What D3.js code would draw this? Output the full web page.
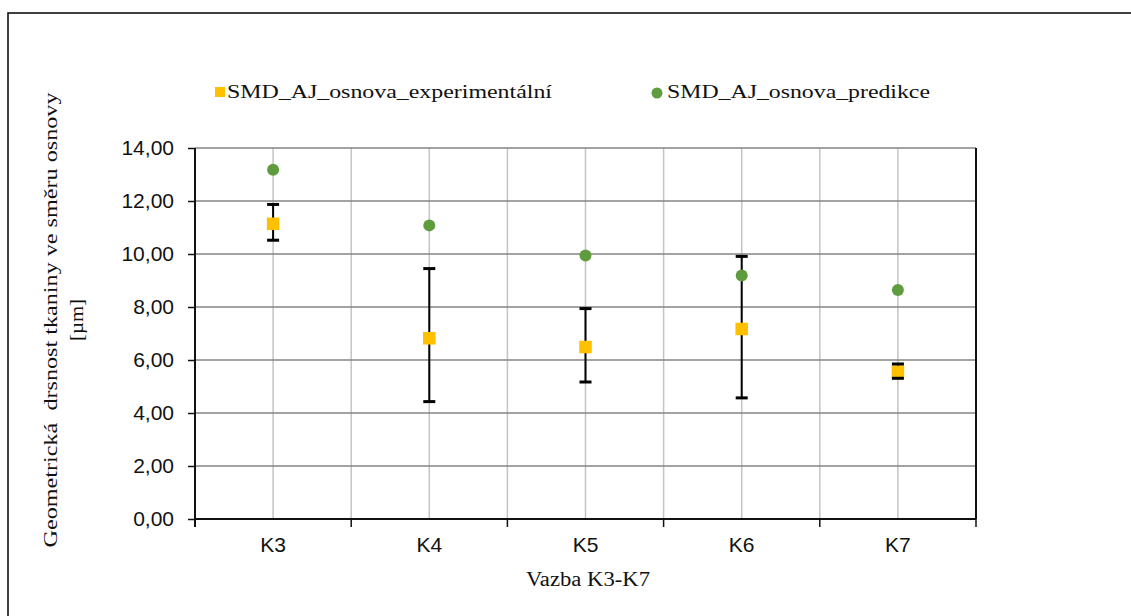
<!DOCTYPE html>
<html><head><meta charset="utf-8">
<script src="https://cdn.jsdelivr.net/npm/d3@7"></script>
<style>body{margin:0;background:#fff}svg{display:block}</style>
</head><body>
<svg id="c" width="1131" height="616"></svg>
<script>
const categories = ["K3","K4","K5","K6","K7"];
const experimental = [11.14, 6.82, 6.49, 7.17, 5.56];
const expUpper = [11.87, 9.45, 7.94, 9.91, 5.85];
const expLower = [10.52, 4.43, 5.17, 4.57, 5.31];
const prediction = [13.18, 11.08, 9.94, 9.19, 8.64];
const yTicks = [0,2,4,6,8,10,12,14];
const seriesNames = ["SMD_AJ_osnova_experimentální","SMD_AJ_osnova_predikce"];
const xTitle = "Vazba K3-K7";
const yTitle1 = "Geometrická  drsnost tkaniny ve směru osnovy";
const yTitle2 = "[µm]";

const svg = d3.select("#c");
svg.append("rect").attr("width",1131).attr("height",616).attr("fill","#fff");
svg.append("rect").attr("x",8).attr("y",13).attr("width",1140).attr("height",620)
  .attr("fill","none").attr("stroke","#111").attr("stroke-width",1.6);

const L=195,R=976,T=148,B=519;
const x = d3.scaleBand().domain(categories).range([L,R]).padding(0);
const y = d3.scaleLinear().domain([0,14]).range([B,T]);
const fmt = d3.formatLocale({decimal:",",thousands:" ",grouping:[3],currency:["",""]}).format(".2f");

const boundaries = categories.map(c=>x(c)).concat([R]);
// vertical grid
const g = svg.append("g");
g.selectAll(".vb").data(boundaries.slice(1,-1)).join("line")
  .attr("x1",d=>d).attr("x2",d=>d).attr("y1",T).attr("y2",B)
  .attr("stroke","#c4c4c4").attr("stroke-width",1.5);
g.selectAll(".vc").data(categories).join("line")
  .attr("x1",d=>x(d)+x.bandwidth()/2).attr("x2",d=>x(d)+x.bandwidth()/2).attr("y1",T).attr("y2",B)
  .attr("stroke","#c4c4c4").attr("stroke-width",1.5);
// horizontal grid
g.selectAll(".h").data(yTicks.filter(t=>t>0)).join("line")
  .attr("x1",L).attr("x2",R).attr("y1",d=>y(d)).attr("y2",d=>y(d))
  .attr("stroke","#858585").attr("stroke-width",1.5);

// y axis
const ya = svg.append("g").attr("transform",`translate(${L},0)`)
  .call(d3.axisLeft(y).tickValues(yTicks).tickSize(7).tickPadding(14).tickFormat(fmt));
ya.select(".domain").remove();
ya.selectAll(".tick line").attr("stroke","#111").attr("stroke-width",1.5);
ya.selectAll(".tick text").attr("font-family","Liberation Sans, Arial, sans-serif").attr("font-size",21).attr("fill","#111");
svg.append("line").attr("x1",L).attr("x2",L).attr("y1",T).attr("y2",B+8).attr("stroke","#111").attr("stroke-width",2);

// x axis
const xa = svg.append("g").attr("transform",`translate(0,${B})`)
  .call(d3.axisBottom(x).tickSize(0).tickPadding(18));
xa.select(".domain").remove();
xa.selectAll(".tick text").attr("font-family","Liberation Sans, Arial, sans-serif").attr("font-size",21).attr("fill","#111");
svg.append("line").attr("x1",L).attr("x2",R).attr("y1",B).attr("y2",B).attr("stroke","#111").attr("stroke-width",2);
svg.selectAll(".bt").data(boundaries).join("line")
  .attr("x1",d=>d).attr("x2",d=>d).attr("y1",B).attr("y2",B+8)
  .attr("stroke","#111").attr("stroke-width",1.5);
svg.append("line").attr("x1",R).attr("x2",R).attr("y1",T).attr("y2",B).attr("stroke","#111").attr("stroke-width",2);

const cx = i => x(categories[i]) + x.bandwidth()/2;

// error bar stems
svg.selectAll(".stem").data(categories).join("line")
  .attr("x1",(d,i)=>cx(i)).attr("x2",(d,i)=>cx(i))
  .attr("y1",(d,i)=>y(expUpper[i])).attr("y2",(d,i)=>y(expLower[i]))
  .attr("stroke","#000").attr("stroke-width",2);
// experimental squares
const s=12.5;
svg.selectAll(".sq").data(experimental).join("rect")
  .attr("x",(d,i)=>cx(i)-s/2).attr("y",d=>y(d)-s/2).attr("width",s).attr("height",s)
  .attr("fill","#FFC000");
// caps
const caps=[];
categories.forEach((c,i)=>{caps.push([i,expUpper[i]]);caps.push([i,expLower[i]]);});
svg.selectAll(".cap").data(caps).join("line")
  .attr("x1",d=>cx(d[0])-6).attr("x2",d=>cx(d[0])+6)
  .attr("y1",d=>y(d[1])).attr("y2",d=>y(d[1]))
  .attr("stroke","#000").attr("stroke-width",3);
// prediction circles
svg.selectAll(".pc").data(prediction).join("circle")
  .attr("cx",(d,i)=>cx(i)).attr("cy",d=>y(d)).attr("r",6)
  .attr("fill","#5F9C3E");

// legend
svg.append("rect").attr("x",215).attr("y",87).attr("width",10).attr("height",10).attr("fill","#FFC000");
svg.append("text").attr("x",227).attr("y",98).text(seriesNames[0])
  .attr("font-family","Liberation Serif, Times New Roman, serif").attr("font-size",18).attr("fill","#111")
  .attr("textLength",325).attr("lengthAdjust","spacingAndGlyphs");
svg.append("circle").attr("cx",657).attr("cy",93).attr("r",5.5).attr("fill","#5F9C3E");
svg.append("text").attr("x",667).attr("y",98).text(seriesNames[1])
  .attr("font-family","Liberation Serif, Times New Roman, serif").attr("font-size",18).attr("fill","#111")
  .attr("textLength",263).attr("lengthAdjust","spacingAndGlyphs");

// axis titles
svg.append("text").attr("x",588).attr("y",586).attr("text-anchor","middle").text(xTitle)
  .attr("font-family","Liberation Serif, Times New Roman, serif").attr("font-size",20).attr("fill","#111")
  .attr("textLength",124).attr("lengthAdjust","spacingAndGlyphs");
svg.append("text").attr("transform","translate(57,320) rotate(-90)").attr("text-anchor","middle")
  .attr("xml:space","preserve").text(yTitle1)
  .attr("font-family","Liberation Serif, Times New Roman, serif").attr("font-size",19).attr("fill","#111")
  .attr("textLength",455).attr("lengthAdjust","spacingAndGlyphs");
svg.append("text").attr("transform","translate(83,320) rotate(-90)").attr("text-anchor","middle")
  .text(yTitle2)
  .attr("font-family","Liberation Serif, Times New Roman, serif").attr("font-size",19).attr("fill","#111")
  .attr("textLength",42).attr("lengthAdjust","spacingAndGlyphs");
</script>
</body></html>
